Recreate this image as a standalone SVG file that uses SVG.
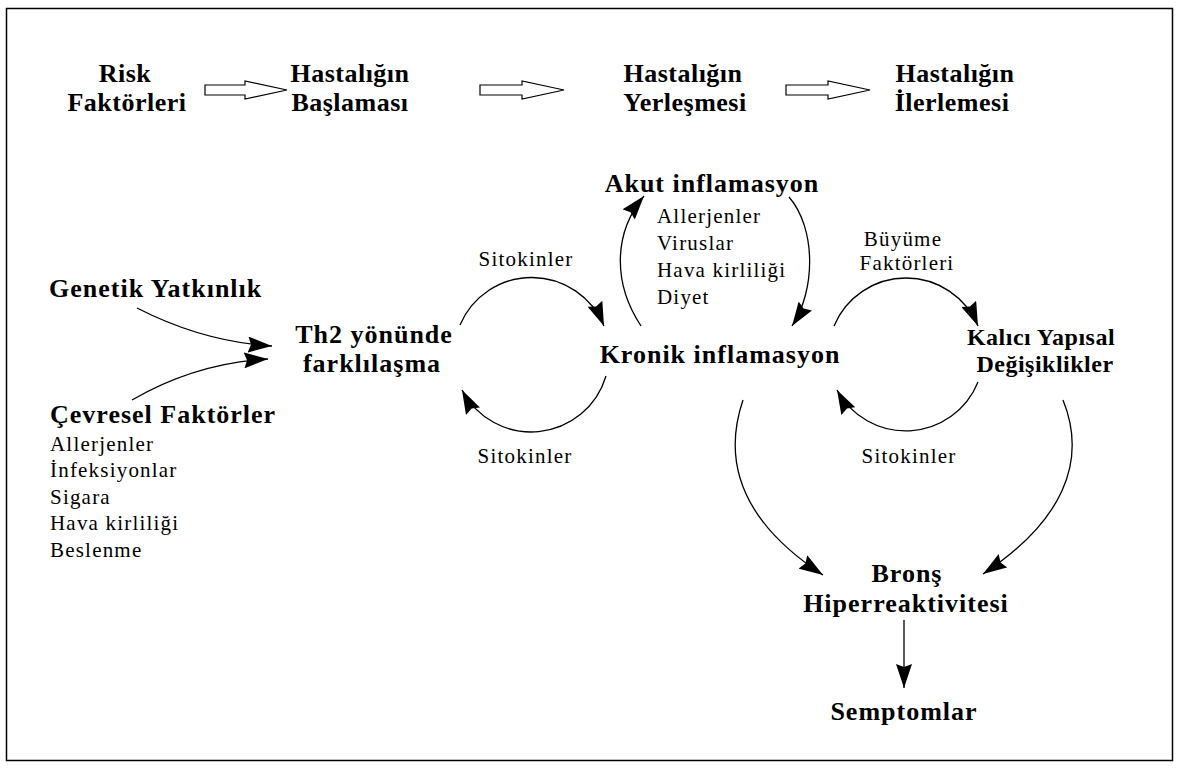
<svg xmlns="http://www.w3.org/2000/svg" width="1180" height="768" viewBox="0 0 1180 768">
<style>
.b{font-family:"Liberation Serif","Times New Roman",serif;font-weight:bold;font-size:26px;letter-spacing:1px;fill:#000}
.t{letter-spacing:0.5px}
.k{font-size:24px;letter-spacing:0.5px}
.r{font-family:"Liberation Serif","Times New Roman",serif;font-size:21px;letter-spacing:1.2px;fill:#000}
.m{text-anchor:middle}
.c{fill:none;stroke:#000;stroke-width:1.3;marker-end:url(#ah)}
.ha{fill:#fff;stroke:#000;stroke-width:1.2;stroke-linejoin:miter}
</style>
<defs>
<marker id="ah" viewBox="0 0 24 16" markerWidth="24" markerHeight="16" refX="24" refY="8" orient="auto" markerUnits="userSpaceOnUse">
<path d="M0,0 L24,8 L0,16 L3,8 z" fill="#000"/>
</marker>
</defs>
<rect x="6.5" y="8.5" width="1166" height="752" fill="#fff" stroke="#000" stroke-width="1.5"/>

<g id="stage-risk">
<text class="b t m" x="125" y="82">Risk</text>
<text class="b t m" x="127" y="111">Faktörleri</text>
</g>
<g id="stage-baslama">
<text class="b t m" x="350" y="82">Hastalığın</text>
<text class="b t m" x="350" y="111">Başlaması</text>
</g>
<g id="stage-yerlesme">
<text class="b t m" x="683" y="82">Hastalığın</text>
<text class="b t m" x="685" y="111">Yerleşmesi</text>
</g>
<g id="stage-ilerleme">
<text class="b t m" x="955" y="82">Hastalığın</text>
<text class="b t m" x="952" y="111">İlerlemesi</text>
</g>

<g id="genetik"><text class="b" x="49" y="297">Genetik Yatkınlık</text></g>
<g id="cevresel">
<text class="b" x="50" y="423">Çevresel Faktörler</text>
<text class="r" x="50" y="451">Allerjenler</text>
<text class="r" x="50" y="477">İnfeksiyonlar</text>
<text class="r" x="50" y="504">Sigara</text>
<text class="r" x="50" y="530">Hava kirliliği</text>
<text class="r" x="50" y="557">Beslenme</text>
</g>
<g id="th2">
<text class="b m" x="374" y="343">Th2 yönünde</text>
<text class="b m" x="372" y="372">farklılaşma</text>
</g>
<g id="akut">
<text class="b m" x="712" y="192">Akut inflamasyon</text>
<text class="r" x="657" y="223">Allerjenler</text>
<text class="r" x="657" y="250">Viruslar</text>
<text class="r" x="657" y="277">Hava kirliliği</text>
<text class="r" x="657" y="304">Diyet</text>
</g>
<g id="kronik"><text class="b m" x="720" y="363">Kronik inflamasyon</text></g>
<g id="kalici">
<text class="b k m" x="1041" y="345">Kalıcı Yapısal</text>
<text class="b k m" x="1045" y="372">Değişiklikler</text>
</g>
<g id="brons">
<text class="b m" x="907" y="582">Bronş</text>
<text class="b m" x="906" y="612">Hiperreaktivitesi</text>
</g>
<g id="semptomlar"><text class="b m" x="904" y="720">Semptomlar</text></g>

<g id="labels">
<text class="r m" x="526" y="266">Sitokinler</text>
<text class="r m" x="525" y="463">Sitokinler</text>
<text class="r m" x="903" y="246">Büyüme</text>
<text class="r m" x="907" y="270">Faktörleri</text>
<text class="r m" x="909" y="463">Sitokinler</text>
</g>

<g id="connectors">
<path class="ha" d="M205,85 H245 V81 L287,90 L245,99 V95 H205 Z"/>
<path class="ha" d="M480,85 H522 V81 L564,90 L522,99 V95 H480 Z"/>
<path class="ha" d="M786,85 H828 V81 L870,90 L828,99 V95 H786 Z"/>
<path class="c" d="M137,308 C180,330 222,343 272,346"/>
<path class="c" d="M132,400 C170,378 215,362 268,359"/>
<path class="c" d="M460,325 A78,78 0 0,1 604,326"/>
<path class="c" d="M606,376 A78,78 0 0,1 462,390"/>
<path class="c" d="M641,326 C612,282 614,232 644,196"/>
<path class="c" d="M789,197 C816,228 816,290 792,326"/>
<path class="c" d="M834,326 A78,78 0 0,1 978,326"/>
<path class="c" d="M978,382 A78,78 0 0,1 837,390"/>
<path class="c" d="M743,400 C722,462 742,522 823,575"/>
<path class="c" d="M1063,400 C1088,462 1062,522 983,574"/>
<path class="c" d="M904,620 L904,688"/>
</g>
</svg>
